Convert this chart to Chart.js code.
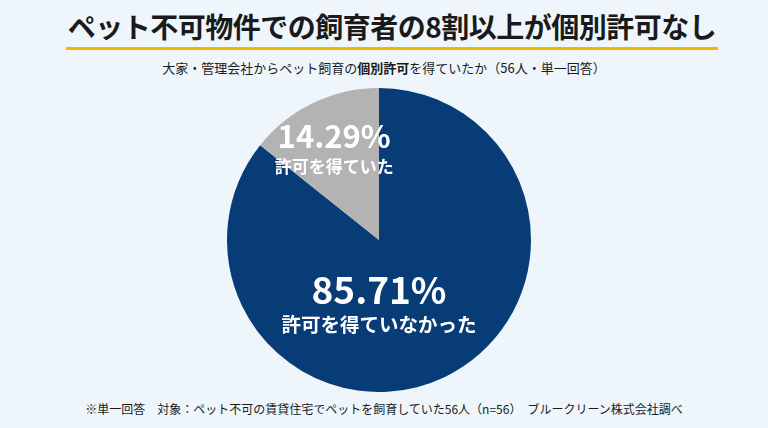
<!DOCTYPE html>
<html lang="ja">
<head>
<meta charset="utf-8">
<script src="https://cdn.jsdelivr.net/npm/chart.js@4"></script>
<style>
  html, body { margin: 0; padding: 0; }
  body {
    width: 768px; height: 428px; overflow: hidden; position: relative;
    background: #eff6fb;
    font-family: "Noto Sans CJK JP", "Noto Sans", sans-serif;
    color: #1a1a1a;
  }
  #title {
    position: absolute; left: 66px; width: 652px; top: 5px;
    text-align: center; font-size: 28px; font-weight: 700; line-height: 42px;
    letter-spacing: -0.5px;
    border-bottom: 3px solid #f5b800;
  }
  #subtitle {
    position: absolute; left: 0; width: 768px; top: 59px;
    text-align: center; font-size: 13px; line-height: 18px;
  }
  #footer {
    position: absolute; left: 0; width: 768px; top: 400px;
    text-align: center; font-size: 12px; line-height: 18px;
  }
  #wrap { position: absolute; left: 227px; top: 88px; width: 304px; height: 304px; }
</style>
</head>
<body>
<div id="title">ペット不可物件での飼育者の8割以上が個別許可なし</div>
<div id="subtitle">大家・管理会社からペット飼育の<b>個別許可</b>を得ていたか（56人・単一回答）</div>
<div id="wrap"><canvas id="chart"></canvas></div>
<div id="footer">※単一回答　対象：ペット不可の賃貸住宅でペットを飼育していた56人（n=56）　ブルークリーン株式会社調べ</div>
<script>
const categories = ["許可を得ていなかった", "許可を得ていた"];
const shares = [85.71, 14.29];
const sliceColors = ["#073c77", "#b3b3b3"];

const labelPlugin = {
    id: "sliceLabels",
    afterDatasetsDraw(chart) {
        const ctx = chart.ctx;
        const arcs = chart.getDatasetMeta(0).data;
        ctx.save();
        ctx.fillStyle = "#ffffff";
        ctx.textAlign = "center";
        ctx.textBaseline = "middle";
        arcs.forEach(function(arc, i) {
            const r = arc.outerRadius;
            let x, y, big, small, gap;
            if (i === 0) {
                x = arc.x;
                y = arc.y + r * 0.33;
                big = 37; small = 19.5; gap = 34;
            } else {
                const mid = (arc.startAngle + arc.endAngle) / 2;
                x = arc.x + Math.cos(mid) * r * 0.68;
                y = arc.y + Math.sin(mid) * r * 0.68 - 11;
                big = 31; small = 17; gap = 31;
            }
            ctx.font = "700 " + big + "px 'Noto Sans CJK JP', sans-serif";
            ctx.fillText(shares[i].toFixed(2) + "%", x, y);
            ctx.font = "700 " + small + "px 'Noto Sans CJK JP', sans-serif";
            ctx.fillText(categories[i], x, y + gap);
        });
        ctx.restore();
    }
};

new Chart(document.getElementById("chart"), {
    type: "pie",
    data: {
        labels: categories,
        datasets: [
            {
                data: shares,
                backgroundColor: sliceColors,
                borderWidth: 0
            }
        ]
    },
    options: {
        responsive: true,
        maintainAspectRatio: false,
        animation: false,
        layout: { padding: 0 },
        plugins: {
            legend: { display: false },
            tooltip: { enabled: false }
        }
    },
    plugins: [labelPlugin]
});
</script>
</body>
</html>
